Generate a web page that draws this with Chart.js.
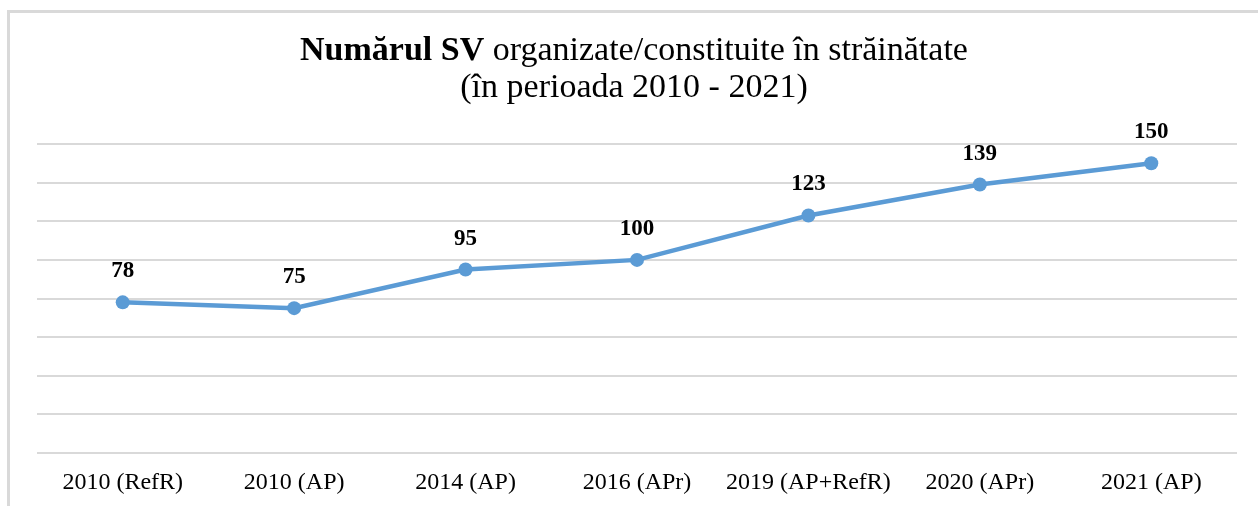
<!DOCTYPE html>
<html>
<head>
<meta charset="utf-8">
<script src="https://cdn.jsdelivr.net/npm/chart.js@4"></script>
<style>
    html, body { margin: 0; padding: 0; background: #fff; }
    #wrap { width: 1258px; height: 506px; position: relative; }
</style>
</head>
<body>
<div id="wrap"><canvas id="graficoSV"></canvas></div>
<script>
// Numărul SV organizate/constituite în străinătate (2010 - 2021)

const categorii = ['2010 (RefR)', '2010 (AP)', '2014 (AP)', '2016 (APr)', '2019 (AP+RefR)', '2020 (APr)', '2021 (AP)'];
const valoriSV = [78, 75, 95, 100, 123, 139, 150];
const titluBold = 'Numărul SV';
const titluNormal = ' organizate/constituite în străinătate';
const titluLinia2 = '(în perioada 2010 - 2021)';

const FONT = '"Liberation Serif", "Times New Roman", serif';
const ALBASTRU = '#5b9bd5';
const GRI = '#d9d9d9';

// chenarul gri (doar sus si stanga) + titlul cu partea bolduita
const pluginFundal = {
    id: 'fundal',
    beforeDraw(chart) {
        const ctx = chart.ctx;
        ctx.save();
        ctx.fillStyle = GRI;
        ctx.fillRect(7, 10, 1258, 3);
        ctx.fillRect(7, 10, 3, 506);

        ctx.fillStyle = '#000';
        ctx.textBaseline = 'alphabetic';
        ctx.font = 'bold 34px ' + FONT;
        const wBold = ctx.measureText(titluBold).width;
        ctx.font = '34px ' + FONT;
        const wNormal = ctx.measureText(titluNormal).width;
        const centru = 634;
        let x = centru - (wBold + wNormal) / 2;
        ctx.textAlign = 'left';
        ctx.font = 'bold 34px ' + FONT;
        ctx.fillText(titluBold, x, 60);
        ctx.font = '34px ' + FONT;
        ctx.fillText(titluNormal, x + wBold, 60);
        ctx.textAlign = 'center';
        ctx.fillText(titluLinia2, centru, 97);
        ctx.restore();
    }
};

// etichetele cu valori deasupra punctelor
const pluginEtichete = {
    id: 'etichete',
    afterDatasetsDraw(chart) {
        const ctx = chart.ctx;
        const meta = chart.getDatasetMeta(0);
        ctx.save();
        ctx.fillStyle = '#000';
        ctx.font = 'bold 23px ' + FONT;
        ctx.textAlign = 'center';
        ctx.textBaseline = 'alphabetic';
        meta.data.forEach((pt, i) => {
            ctx.fillText(String(valoriSV[i]), pt.x, pt.y - 25);
        });
        ctx.restore();
    }
};

const ctx = document.getElementById('graficoSV').getContext('2d');
new Chart(ctx, {
    type: 'line',
    data: {
        labels: categorii,
        datasets: [{
            data: valoriSV,
            borderColor: ALBASTRU,
            backgroundColor: ALBASTRU,
            borderWidth: 4.5,
            pointRadius: 7,
            pointHoverRadius: 7,
            pointBorderWidth: 0,
            tension: 0,
            clip: false
        }]
    },
    options: {
        responsive: true,
        maintainAspectRatio: false,
        animation: false,
        layout: {
            padding: { left: 37, right: 21, top: 144, bottom: 0 }
        },
        plugins: {
            legend: { display: false },
            title: { display: false },
            tooltip: { enabled: false }
        },
        scales: {
            x: {
                offset: true,
                grid: { display: false },
                border: { display: false },
                ticks: {
                    color: '#000',
                    font: { family: FONT, size: 24 },
                    padding: 7,
                    maxRotation: 0,
                    autoSkip: false
                },
                afterFit(scale) {
                    scale.height = 53;
                }
            },
            y: {
                min: 0,
                max: 160,
                ticks: { stepSize: 20, display: false },
                grid: { color: GRI, lineWidth: 2, drawTicks: false },
                border: { display: false }
            }
        }
    },
    plugins: [pluginFundal, pluginEtichete]
});
</script>
</body>
</html>
